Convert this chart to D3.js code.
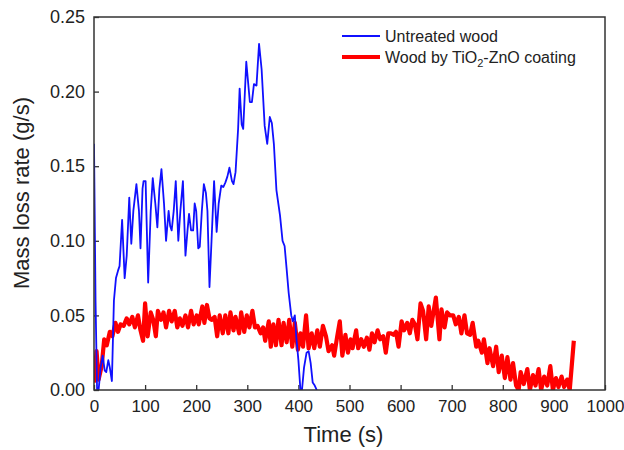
<!DOCTYPE html>
<html>
<head>
<meta charset="utf-8">
<script src="https://cdn.jsdelivr.net/npm/d3@7"></script>
<style>
  body { margin: 0; background: #fff; }
  text { font-family: Arial, "Liberation Sans", sans-serif; fill: #222; }
</style>
</head>
<body>
<div id="chart"></div>
<script>
// untreated wood (blue)
var blueTime = [0, 3, 6, 9, 13, 17, 21, 24, 28, 31, 35, 39, 43, 47, 50, 55, 60, 64, 69, 73, 77, 83, 88, 91, 95, 97, 101, 106, 111, 115, 120, 124, 128, 132, 137, 141, 146, 149, 152, 156, 160, 165, 169, 174, 179, 183, 186, 190, 194, 197, 200, 204, 207, 211, 215, 219, 222, 226, 230, 235, 240, 244, 249, 253, 257, 261, 265, 270, 273, 277, 282, 285, 289, 292, 298, 305, 309, 313, 318, 323, 328, 334, 339, 344, 348, 352, 357, 364, 369, 373, 377, 381, 386, 389, 393, 396, 400, 404, 407, 411, 416, 420, 424, 428, 432, 436];
var blueRate = [0.165, 0.06, 0.0, 0.0, 0.015, 0.023, 0.013, 0.012, 0.02, 0.015, 0.006, 0.06, 0.075, 0.08, 0.083, 0.114, 0.075, 0.09, 0.129, 0.098, 0.12, 0.138, 0.12, 0.095, 0.135, 0.14, 0.14, 0.072, 0.12, 0.142, 0.125, 0.109, 0.135, 0.148, 0.125, 0.1, 0.12, 0.11, 0.107, 0.12, 0.14, 0.1, 0.12, 0.14, 0.09, 0.107, 0.118, 0.107, 0.107, 0.125, 0.12, 0.095, 0.096, 0.12, 0.138, 0.132, 0.12, 0.069, 0.1, 0.14, 0.106, 0.125, 0.137, 0.136, 0.139, 0.143, 0.149, 0.14, 0.138, 0.146, 0.175, 0.202, 0.178, 0.175, 0.22, 0.193, 0.193, 0.205, 0.204, 0.232, 0.215, 0.177, 0.165, 0.183, 0.179, 0.165, 0.134, 0.117, 0.1, 0.0965, 0.081, 0.065, 0.05, 0.046, 0.05, 0.035, 0.02, 0.0, 0.0, 0.015, 0.025, 0.026, 0.018, 0.005, 0.003, 0.0];

// wood with TiO2-ZnO coating (red)
var redTime = [0, 5, 9, 15, 20, 25, 31, 36, 42, 47, 52, 58, 64, 69, 75, 80, 86, 91, 96, 100, 105, 111, 116, 121, 125, 131, 136, 141, 147, 152, 158, 163, 168, 173, 179, 184, 190, 195, 201, 205, 212, 216, 221, 226, 230, 236, 241, 246, 252, 257, 263, 267, 273, 277, 284, 288, 294, 299, 304, 310, 315, 320, 326, 331, 335, 342, 346, 351, 356, 361, 367, 371, 377, 382, 388, 393, 399, 404, 409, 415, 420, 426, 431, 437, 442, 448, 454, 459, 466, 470, 476, 481, 486, 492, 497, 502, 506, 513, 517, 523, 528, 534, 539, 544, 549, 555, 560, 566, 571, 576, 581, 586, 591, 596, 602, 607, 613, 618, 623, 628, 633, 639, 644, 650, 655, 660, 669, 676, 680, 686, 691, 697, 703, 708, 714, 719, 725, 730, 736, 741, 748, 752, 759, 763, 770, 774, 781, 787, 792, 798, 804, 809, 815, 820, 826, 831, 835, 841, 848, 853, 859, 864, 870, 875, 881, 887, 893, 898, 904, 909, 915, 920, 926, 931, 939];
var redRate = [0.005, 0.026, 0.007, 0.016, 0.034, 0.03, 0.039, 0.036, 0.045, 0.039, 0.044, 0.043, 0.048, 0.044, 0.049, 0.042, 0.05, 0.04, 0.033, 0.058, 0.036, 0.052, 0.047, 0.036, 0.053, 0.047, 0.052, 0.042, 0.053, 0.046, 0.053, 0.042, 0.048, 0.043, 0.05, 0.042, 0.053, 0.044, 0.05, 0.044, 0.056, 0.045, 0.057, 0.048, 0.047, 0.049, 0.036, 0.05, 0.038, 0.05, 0.038, 0.052, 0.04, 0.049, 0.038, 0.052, 0.039, 0.05, 0.042, 0.053, 0.042, 0.043, 0.038, 0.042, 0.033, 0.046, 0.029, 0.044, 0.03, 0.047, 0.03, 0.045, 0.032, 0.047, 0.029, 0.045, 0.027, 0.038, 0.029, 0.05, 0.028, 0.038, 0.028, 0.04, 0.029, 0.043, 0.036, 0.026, 0.03, 0.023, 0.036, 0.046, 0.023, 0.037, 0.025, 0.034, 0.028, 0.04, 0.028, 0.034, 0.029, 0.035, 0.027, 0.038, 0.032, 0.04, 0.034, 0.036, 0.025, 0.038, 0.038, 0.037, 0.039, 0.029, 0.046, 0.04, 0.045, 0.038, 0.047, 0.044, 0.034, 0.058, 0.053, 0.034, 0.056, 0.043, 0.062, 0.034, 0.054, 0.042, 0.052, 0.05, 0.05, 0.044, 0.049, 0.038, 0.05, 0.038, 0.037, 0.045, 0.029, 0.033, 0.025, 0.034, 0.018, 0.028, 0.016, 0.029, 0.012, 0.023, 0.008, 0.022, 0.007, 0.018, 0.003, 0.0, 0.012, 0.004, 0.014, 0.0, 0.01, 0.003, 0.014, 0.0, 0.009, 0.003, 0.016, 0.0, 0.008, 0.002, 0.009, 0.002, 0.007, 0.0, 0.033];

var xTicks = [0, 100, 200, 300, 400, 500, 600, 700, 800, 900, 1000];
var yTicks = [0, 0.05, 0.10, 0.15, 0.20, 0.25];

var width = 624, height = 450;
var margin = { top: 17, right: 19, bottom: 60, left: 94 };
var plotW = width - margin.left - margin.right;
var plotH = height - margin.top - margin.bottom;

var svg = d3.select("#chart").append("svg")
  .attr("width", width)
  .attr("height", height);

var panel = svg.append("g")
  .attr("transform", "translate(" + margin.left + "," + margin.top + ")");

var xScale = d3.scaleLinear().domain([0, 1000]).range([0, plotW]);
var yScale = d3.scaleLinear().domain([0, 0.25]).range([plotH, 0]);

// clip so lines stay in the frame
panel.append("clipPath").attr("id", "clip")
  .append("rect").attr("width", plotW).attr("height", plotH);

// axes, ticks pointing inward
var xAxis = d3.axisBottom(xScale).tickValues(xTicks).tickSizeInner(-5).tickSizeOuter(0)
  .tickPadding(10).tickFormat(d3.format("d"));
var yAxis = d3.axisLeft(yScale).tickValues(yTicks).tickSizeInner(-5).tickSizeOuter(0)
  .tickPadding(9).tickFormat(d3.format(".2f"));

var gx = panel.append("g").attr("transform", "translate(0," + plotH + ")").call(xAxis);
var gy = panel.append("g").call(yAxis);
[gx, gy].forEach(function(g) {
  g.select(".domain").remove();
  g.selectAll(".tick line").attr("stroke", "#333").attr("stroke-width", 1.3);
  g.selectAll(".tick text").attr("fill", "#222");
});
gy.selectAll(".tick text").style("font-size", "18px");
gx.selectAll(".tick text").style("font-size", "17px");

// data
var blueData = blueTime.map(function(t, i) { return { t: t, v: blueRate[i] }; });
var redData = redTime.map(function(t, i) { return { t: t, v: redRate[i] }; });

var line = d3.line()
  .x(function(d) { return xScale(d.t); })
  .y(function(d) { return yScale(d.v); });

panel.append("path")
  .datum(redData)
  .attr("clip-path", "url(#clip)")
  .attr("fill", "none")
  .attr("stroke", "#ff0000")
  .attr("stroke-width", 4.2)
  .attr("stroke-linejoin", "round")
  .attr("d", line);

panel.append("path")
  .datum(blueData)
  .attr("clip-path", "url(#clip)")
  .attr("fill", "none")
  .attr("stroke", "#1010ff")
  .attr("stroke-width", 1.8)
  .attr("stroke-linejoin", "round")
  .attr("d", line);

// frame
panel.append("rect")
  .attr("width", plotW).attr("height", plotH)
  .attr("fill", "none")
  .attr("stroke", "#333")
  .attr("stroke-width", 1.5);

// axis titles
svg.append("text")
  .attr("text-anchor", "middle")
  .attr("x", margin.left + xScale(500) - 6)
  .attr("y", 442)
  .style("font-size", "22px")
  .text("Time (s)");

svg.append("text")
  .attr("text-anchor", "middle")
  .attr("transform", "translate(29," + 193 + ") rotate(-90)")
  .style("font-size", "22px")
  .text("Mass loss rate (g/s)");

// legend
var legend = svg.append("g");
legend.append("line")
  .attr("x1", 342).attr("x2", 380).attr("y1", 36).attr("y2", 36)
  .attr("stroke", "#1010ff").attr("stroke-width", 1.8);
legend.append("text")
  .attr("x", 385).attr("y", 42)
  .style("font-size", "16px")
  .text("Untreated wood");

legend.append("line")
  .attr("x1", 342).attr("x2", 380).attr("y1", 57).attr("y2", 57)
  .attr("stroke", "#ff0000").attr("stroke-width", 4.2);
var t2 = legend.append("text")
  .attr("x", 385).attr("y", 63)
  .style("font-size", "16px");
t2.append("tspan").text("Wood by TiO");
t2.append("tspan").attr("dy", 4).style("font-size", "11px").text("2");
t2.append("tspan").attr("dy", -4).text("-ZnO coating");
</script>
</body>
</html>
